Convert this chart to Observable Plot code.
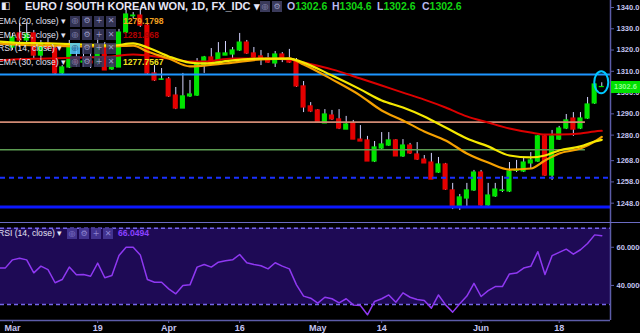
<!DOCTYPE html>
<html><head><meta charset="utf-8">
<script src="https://cdn.jsdelivr.net/npm/d3@7"></script>
<script src="https://cdn.jsdelivr.net/npm/@observablehq/plot@0.6"></script>
<style>
html,body{margin:0;padding:0;background:#000;}
#wrap{position:relative;width:640px;height:333px;overflow:hidden;background:#000;font-family:"Liberation Sans",Arial,sans-serif;}
#main,#rsi{position:absolute;left:0;width:640px;}
#main{top:0;} #rsi{top:222px;}
#ov{position:absolute;left:0;top:0;width:640px;height:333px;pointer-events:none;}
.t{position:absolute;white-space:nowrap;line-height:1;}
.b{position:absolute;width:10px;height:11px;display:flex;align-items:center;justify-content:center;font-size:8px;line-height:1;font-family:"DejaVu Sans",sans-serif;}
svg{display:block;overflow:visible;}
</style></head>
<body><div id="wrap"><div id="main"></div><div id="rsi"></div><div id="ov"></div></div>
<script>
// ---------- data (EUR/KRW daily, trading-day index 0 = 1 Mar 2018) ----------
const open = [1321.2,1327.8,1324.5,1327.8,1317.4,1323.1,1320.7,1309.0,1311.8,1315.1,
1314.1,1314.6,1313.7,1322.1,1310.9,1311.8,1328.2,1335.9,1336.2,1331.5,
1309.0,1306.0,1306.2,1298.6,1292.5,1298.2,1298.6,1312.7,1316.5,1313.7,
1317.4,1317.9,1319.8,1323.5,1318.4,1317.0,1316.0,1313.7,1317.9,1316.0,
1314.6,1302.9,1293.5,1291.6,1285.5,1289.2,1287.4,1282.6,1285.5,1277.9,
1277.5,1267.6,1273.7,1275.1,1277.5,1270.0,1275.1,1270.9,1268.5,1267.1,
1262.4,1266.2,1254.0,1246.4,1250.2,1254.0,1262.4,1246.9,1251.2,1253.8,
1253.5,1263.2,1262.9,1266.7,1267.6,1279.4,1261.0,1277.9,1283.1,1287.8,
1283.1,1287.8,1294.9,1302.6];
const high = [1327.8,1332.5,1332.9,1329.2,1324.5,1325.4,1321.7,1312.7,1324.5,1321.2,
1321.2,1318.4,1325.4,1323.5,1316.0,1329.7,1338.6,1337.6,1338.6,1332.0,
1312.7,1311.3,1307.1,1302.4,1309.0,1305.7,1316.0,1317.0,1320.7,1323.5,
1324.0,1321.2,1327.8,1324.5,1321.2,1319.8,1318.4,1319.3,1318.8,1320.3,
1316.0,1305.2,1295.3,1292.0,1292.0,1291.6,1292.0,1288.8,1286.9,1284.5,
1279.4,1277.0,1281.2,1281.2,1277.9,1277.9,1276.1,1276.5,1270.4,1271.4,
1269.5,1266.7,1257.3,1252.1,1257.3,1263.4,1263.4,1257.3,1257.3,1260.6,
1267.1,1268.1,1269.0,1271.8,1279.8,1280.3,1282.2,1284.1,1289.7,1290.6,
1290.6,1297.7,1304.3,1304.6];
const low = [1319.8,1321.2,1323.5,1316.0,1316.0,1319.8,1308.5,1308.5,1311.3,1311.8,
1311.8,1311.3,1312.7,1310.4,1310.4,1311.8,1327.8,1334.8,1330.6,1308.5,
1305.2,1305.7,1297.7,1292.0,1292.5,1297.7,1298.2,1309.0,1312.7,1313.2,
1317.4,1316.0,1319.3,1317.9,1316.5,1312.7,1313.7,1311.8,1314.1,1313.7,
1302.4,1290.6,1290.6,1285.5,1285.5,1286.9,1282.6,1282.6,1277.9,1277.0,
1267.6,1267.1,1273.2,1274.7,1270.0,1269.5,1270.9,1268.1,1266.7,1259.1,
1262.0,1254.0,1245.0,1244.6,1246.4,1253.5,1246.4,1246.4,1250.7,1253.0,
1253.0,1262.4,1262.4,1264.3,1267.1,1260.6,1258.7,1277.5,1282.6,1279.4,
1282.6,1287.4,1294.4,1302.6];
const close = [1325.9,1324.5,1327.3,1317.4,1323.1,1320.7,1309.0,1311.8,1322.1,1313.7,
1314.6,1313.7,1322.1,1310.4,1312.7,1328.2,1336.7,1336.2,1331.5,1309.0,
1305.7,1306.2,1298.2,1292.5,1298.2,1299.1,1313.7,1316.5,1313.7,1318.4,
1318.4,1319.8,1323.5,1318.4,1316.5,1316.0,1314.1,1317.9,1315.6,1314.1,
1302.9,1293.0,1291.1,1285.9,1289.7,1287.4,1283.1,1285.0,1277.9,1277.0,
1267.6,1274.2,1275.6,1277.5,1270.0,1275.1,1271.4,1268.5,1266.7,1259.1,
1266.2,1254.4,1245.9,1250.7,1254.0,1262.4,1246.9,1251.6,1254.4,1254.0,
1262.9,1263.4,1267.1,1268.1,1279.4,1261.0,1279.4,1283.1,1286.9,1282.6,
1287.8,1294.4,1303.8,1302.6];

// EMA values at these trading-day indices
const emaIdx = [-2,0,5,10,14,17,19,22,25,27,31,35,39,41,45,49,52,55,58,61,64,67,70,73,75,77,80,82,83];
const ema55 = [1315.1,1315.6,1316.0,1316.5,1317.0,1317.9,1317.4,1316.0,1314.6,1314.6,1316.0,1316.0,1315.6,1314.1,1310.9,1306.6,1303.3,1300.0,1296.7,1293.0,1288.8,1285.9,1283.1,1281.2,1280.3,1280.3,1280.8,1281.7,1282.0];
const ema30 = [1324.0,1323.5,1323.1,1322.6,1322.1,1323.1,1321.2,1317.0,1314.1,1313.7,1315.1,1316.0,1316.0,1314.1,1308.0,1301.5,1296.3,1293.0,1288.8,1283.6,1278.4,1274.7,1270.4,1269.5,1270.4,1272.8,1274.7,1277.0,1277.8];
const ema20 = [1323.1,1322.6,1322.1,1321.7,1321.7,1322.1,1319.3,1316.0,1312.3,1312.7,1314.1,1315.6,1316.0,1313.2,1306.2,1298.6,1291.6,1286.9,1281.7,1277.5,1271.4,1267.1,1263.8,1264.3,1268.1,1271.4,1273.7,1277.0,1279.2];

// RSI(14) from index -2 to 83
const rsiStart = -2;
const rsi = [49.2,49.2,53.4,54.3,53.4,46.6,50.1,48.3,41.4,43.1,
49.6,45.6,45.7,44.8,51.7,44.0,45.2,55.7,60.0,60.0,
56.0,43.1,41.7,41.7,38.2,35.6,40.0,40.3,49.6,51.0,
49.6,52.2,52.9,53.4,56.2,51.9,51.0,50.3,48.7,51.9,
50.1,48.7,40.3,34.4,33.3,30.7,33.8,33.0,30.9,33.0,
29.8,29.5,24.6,31.6,33.0,35.0,31.2,36.1,33.8,32.6,
32.1,28.1,35.0,29.8,26.0,30.4,34.4,41.1,34.2,37.3,
39.4,39.4,46.0,46.5,49.1,50.0,57.7,45.7,55.6,57.3,
59.0,56.4,58.7,62.0,66.5,66.05];
const rsiBand = [30, 70];

// horizontal drawn levels
const levelTop = 1308.5, levelSalmon = 1286.1, levelGreen = 1273.1, levelDash = 1260.0, levelBottom = 1246.2;
const shortLevelEnd = 80.7;

// axes
const yTicks = [1248,1258,1268,1280,1290,1300,1310,1320,1330,1340];
const rsiTicks = [40, 60];
const xTickIdx = [0,12,22,32,43,52,66,77];
const xTickLabels = ["Mar","19","Apr","16","May","14","Jun","18"];

// legend texts
const title = "EURO / SOUTH KOREAN WON, 1D, FX_IDC";
const ohlcLetters = ["O","H","L","C"];
const ohlcValues = ["1302.6","1304.6","1302.6","1302.6"];
const legendNames = ["EMA (20, close)","EMA (55, close)","RSI (14, close)","EMA (30, close)"];
const legendValues = ["1279.1798","1281.968","","1277.7567"];
const rsiLegendValue = "66.0494";
const lastPrice = "1302.6";

// ---------- build ----------
const candles = open.map((o, i) => ({i, o, h: high[i], l: low[i], c: close[i]}));
const up = d => d.c >= d.o;
const emaRows = (vals) => emaIdx.map((i, k) => ({i, v: vals[k]}));
const rsiRows = rsi.map((v, k) => ({i: rsiStart + k, v}));

const xDomain = [-1.69, 84.23];
const yDomain = [1238.92, 1343.29];
const rsiDomain = [21.61, 72.99];
const axisCol = "#5c5ca8", labCol = "#c4c4f0";

const main = Plot.plot({
  width: 640, height: 222, marginLeft: 0, marginRight: 30, marginTop: 0, marginBottom: 0,
  style: {background: "transparent", fontFamily: "Liberation Sans, Arial, sans-serif"},
  x: {domain: xDomain, axis: null, label: null},
  y: {domain: yDomain, axis: null, label: null},
  marks: [
    Plot.ruleX(candles, {x: "i", y1: "l", y2: "h", stroke: "#d4d4ff", strokeWidth: 1}),
    Plot.rect(candles, {x1: d => d.i - 0.36, x2: d => d.i + 0.36, y1: "o", y2: "c",
      fill: d => up(d) ? "#00e400" : "#e40000", insetTop: -0.6, insetBottom: -0.6}),
    Plot.ruleY([levelTop], {stroke: "#1e96ff", strokeWidth: 2}),
    Plot.ruleY([levelSalmon], {x1: xDomain[0], x2: shortLevelEnd, stroke: "#d08a74", strokeWidth: 1.6}),
    Plot.ruleY([levelGreen], {x1: xDomain[0], x2: shortLevelEnd, stroke: "#5c9c52", strokeWidth: 1.6}),
    Plot.ruleY([levelDash], {stroke: "#1a30ff", strokeWidth: 2, strokeDasharray: "5,4"}),
    Plot.ruleY([levelBottom], {stroke: "#0c18ff", strokeWidth: 3}),
    Plot.line(emaRows(ema55), {x: "i", y: "v", stroke: "#dc0000", strokeWidth: 2, curve: "monotone-x", clip: true}),
    Plot.line(emaRows(ema20), {x: "i", y: "v", stroke: "#f5a000", strokeWidth: 2.2, curve: "monotone-x", clip: true}),
    Plot.line(emaRows(ema30), {x: "i", y: "v", stroke: "#f5e800", strokeWidth: 2.2, curve: "monotone-x", clip: true}),
    Plot.ruleX([xDomain[1]], {stroke: axisCol, strokeWidth: 1.5}),
    Plot.axisY({anchor: "right", label: null, ticks: yTicks, tickFormat: d => d.toFixed(1), tickSize: 3, tickPadding: 3,
      stroke: axisCol, fill: labCol, fontSize: 7.5, fontWeight: "bold"})
  ]
});
document.getElementById("main").appendChild(main);

// highlight ellipse around the last candle
const sx = main.scale("x"), sy = main.scale("y");
const last = candles[candles.length - 1];
d3.select(main).append("ellipse")
  .attr("cx", sx.apply(last.i)).attr("cy", sy.apply(last.h))
  .attr("rx", 7).attr("ry", 11)
  .attr("fill", "none").attr("stroke", "#00c8ff").attr("stroke-width", 2);

const rsiChart = Plot.plot({
  width: 640, height: 111, marginLeft: 0, marginRight: 30, marginTop: 0, marginBottom: 13,
  style: {background: "transparent", fontFamily: "Liberation Sans, Arial, sans-serif"},
  x: {domain: xDomain, axis: null, label: null},
  y: {domain: rsiDomain, axis: null, label: null},
  marks: [
    Plot.rect([rsiBand], {x1: xDomain[0], x2: xDomain[1], y1: d => d[0], y2: d => d[1], fill: "#1e0a55"}),
    Plot.ruleY(rsiBand, {stroke: "#7466e8", strokeWidth: 1.5, strokeDasharray: "4,3"}),
    Plot.line(rsiRows, {x: "i", y: "v", stroke: "#8f38f2", strokeWidth: 1.5, clip: true}),
    Plot.ruleX([xDomain[1]], {stroke: axisCol, strokeWidth: 1.5}),
    Plot.ruleY([rsiDomain[0]], {stroke: axisCol, strokeWidth: 1.5}),
    Plot.axisY({anchor: "right", label: null, ticks: rsiTicks, tickFormat: d => d.toFixed(4), tickSize: 3, tickPadding: 3,
      stroke: axisCol, fill: labCol, fontSize: 7.5, fontWeight: "bold"}),
    Plot.axisX({anchor: "bottom", label: null, ticks: xTickIdx, tickFormat: (d, k) => xTickLabels[k], tickSize: 3, tickPadding: 1,
      stroke: axisCol, fill: labCol, fontSize: 9, fontWeight: "bold"})
  ]
});
document.getElementById("rsi").appendChild(rsiChart);

// ---------- overlay texts ----------
const ov = document.getElementById("ov");
function txt(s, left, top, css) {
  const e = document.createElement("div"); e.className = "t"; e.textContent = s;
  e.style.left = left + "px"; e.style.top = top + "px"; Object.assign(e.style, css || {});
  ov.appendChild(e); return e;
}
function box(left, top, glyph, bg, fg) {
  const e = document.createElement("div"); e.className = "b"; e.textContent = glyph;
  e.style.left = left + "px"; e.style.top = top + "px"; e.style.background = bg; e.style.color = fg;
  ov.appendChild(e); return e;
}
// divider between panes
const dv = document.createElement("div");
Object.assign(dv.style, {position: "absolute", left: "0px", top: "222px", width: "640px", height: "1px", background: "#6c6cc4"});
ov.appendChild(dv);

// header
txt("◧", 1, 1, {fontSize: "10px", color: "#e8e8f8", fontFamily: "DejaVu Sans"});
txt(title + " ▾", 25, 1, {fontSize: "11px", fontWeight: "bold", color: "#e6e6f6"});
box(260, 1, "◎", "#3a3a5a", "#9a9ac0");
box(272, 1, "⚙", "#3a3a5a", "#9a9ac0");
let ox = 287;
ohlcLetters.forEach((L, k) => {
  const wrap = txt("", ox, 1, {fontSize: "10.5px", fontWeight: "bold"});
  const a = document.createElement("span"); a.textContent = L; a.style.color = "#b8b8ee";
  const b = document.createElement("span"); b.textContent = ohlcValues[k]; b.style.color = "#12d412";
  wrap.appendChild(a); wrap.appendChild(b);
  ox += 45;
});

// legend rows
const rowTops = [17, 30.5, 44, 57.5];
const valColors = ["#f0a020", "#b00000", "", "#f0e020"];
const glyphs = ["◎", "⚙", "+", "✕"];
legendNames.forEach((nm, r) => {
  txt(nm + " ▾", -2, rowTops[r], {fontSize: "8.6px", color: "#e2e2f2"});
  glyphs.forEach((g, k) => {
    const hi = (r === 2 && k === 0);
    box(70 + k * 12, rowTops[r] - 1.5, g, hi ? "rgba(80,200,255,0.85)" : "rgba(58,58,95,0.85)", hi ? "#1a3a6a" : "#9a9ac4");
  });
  if (legendValues[r]) txt(legendValues[r], 123, rowTops[r], {fontSize: "8.6px", fontWeight: "bold", color: valColors[r]});
});

// RSI legend
txt(legendNames[2] + " ▾", -2, 229, {fontSize: "8.6px", color: "#e2e2f2"});
glyphs.forEach((g, k) => box(67 + k * 12, 228, g, "rgba(70,55,150,0.9)", "#8e84d0"));
txt(rsiLegendValue, 118, 229, {fontSize: "8.6px", fontWeight: "bold", color: "#8a40ff"});

// last price label on the axis
const py = sy.apply(last.c);
const pl = document.createElement("div");
Object.assign(pl.style, {position: "absolute", left: "611px", top: (py - 6) + "px", width: "29px", height: "12px",
  background: "#00e000", color: "#90ff90", fontSize: "7.5px", fontWeight: "bold", lineHeight: "12px", paddingLeft: "3px", boxSizing: "border-box"});
pl.textContent = lastPrice;
ov.appendChild(pl);
</script></body></html>
